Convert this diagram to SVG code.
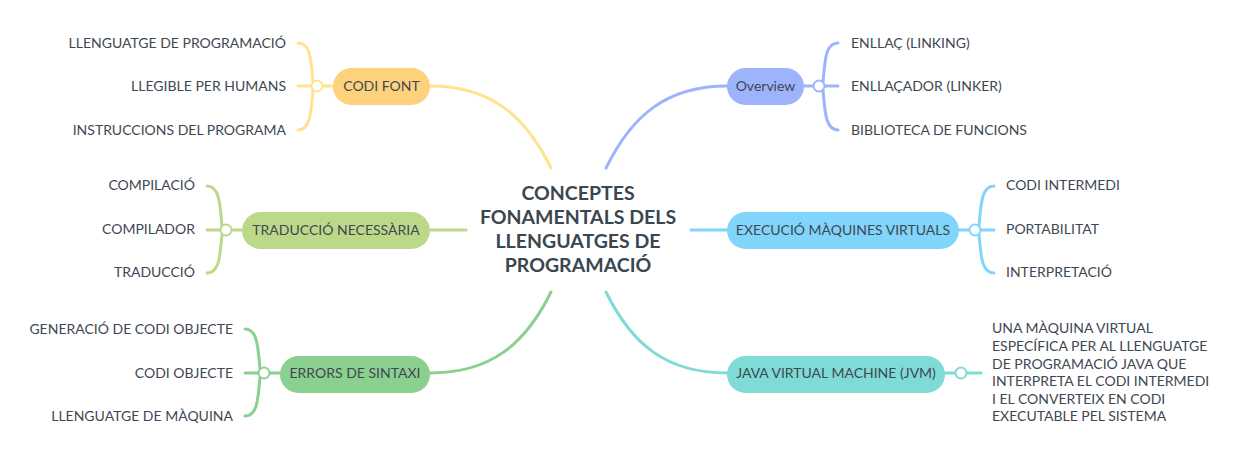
<svg xmlns="http://www.w3.org/2000/svg" width="1245" height="463" viewBox="0 0 1245 463">
<style>
.t{font-family:Lato,"Open Sans","Liberation Sans",sans-serif;font-size:14px;fill:#3e4852}
.r{text-anchor:end}
.c{text-anchor:middle}
.title{font-family:Lato,"Open Sans","Liberation Sans",sans-serif;font-size:19.5px;font-weight:bold;fill:#3a4650;text-anchor:middle}
.ln{fill:none;stroke-width:3;stroke-linecap:round}
.hub{fill:#fff;stroke-width:2}
.y{stroke:#fee390}.b{stroke:#9db3fb}.g{stroke:#bcd98a}.g2{stroke:#8bd08f}.lb{stroke:#81d4fa}.tl{stroke:#7fdbd6}
</style>
<rect width="1245" height="463" fill="#fff"/>
<g id="connectors">
<path class="ln y" d="M551,168 C525,115 490,86 430,86"/>
<path class="ln b" d="M606,168 C632,115 667,86 727,86"/>
<path class="ln g" d="M466,230 L430,230"/>
<path class="ln lb" d="M691,230 L727,230"/>
<path class="ln g2" d="M551,292 C525,345 490,373 430,373"/>
<path class="ln tl" d="M606,292 C632,345 667,373 727,373"/>
<path class="ln y" d="M333,86 L323,86"/>
<path class="ln y" d="M313,82 C311,58 310,43 298,43"/>
<path class="ln y" d="M311,86 L298,86"/>
<path class="ln y" d="M313,90 C311,114 310,130 298,130"/>
<path class="ln g" d="M242,230 L232,230"/>
<path class="ln g" d="M222,226 C220,202 219,186 207,186"/>
<path class="ln g" d="M220,230 L207,230"/>
<path class="ln g" d="M222,234 C220,258 219,273 207,273"/>
<path class="ln g2" d="M280,373 L270,373"/>
<path class="ln g2" d="M260,369 C258,345 257,329 245,329"/>
<path class="ln g2" d="M258,373 L245,373"/>
<path class="ln g2" d="M260,377 C258,401 257,416 245,416"/>
<path class="ln b" d="M804,86 L814,86"/>
<path class="ln b" d="M823,82 C825,58 826,43 838,43"/>
<path class="ln b" d="M825,86 L838,86"/>
<path class="ln b" d="M823,90 C825,114 826,130 838,130"/>
<path class="ln lb" d="M959,230 L969,230"/>
<path class="ln lb" d="M979,226 C981,202 982,186 994,186"/>
<path class="ln lb" d="M981,230 L994,230"/>
<path class="ln lb" d="M979,234 C981,258 982,273 994,273"/>
<path class="ln tl" d="M945,373 L955,373"/>
<path class="ln tl" d="M967,373 L981,373"/>
</g>
<g id="center">
<text class="title" x="578" y="200">CONCEPTES</text>
<text class="title" x="578" y="224">FONAMENTALS DELS</text>
<text class="title" x="578" y="248">LLENGUATGES DE</text>
<text class="title" x="578" y="272">PROGRAMACIÓ</text>
</g>
<g id="codi-font">
<rect x="333" y="68" width="97" height="37" rx="18.5" fill="#fed17d"/>
<text class="t c" x="381.5" y="91">CODI FONT</text>
<circle class="hub y" cx="317" cy="86" r="5.5"/>
</g>
<g id="cf-1"><text class="t r" x="286" y="48">LLENGUATGE DE PROGRAMACIÓ</text></g>
<g id="cf-2"><text class="t r" x="286" y="91">LLEGIBLE PER HUMANS</text></g>
<g id="cf-3"><text class="t r" x="286" y="135">INSTRUCCIONS DEL PROGRAMA</text></g>
<g id="traduccio">
<rect x="242" y="212" width="188" height="37" rx="18.5" fill="#bcd98a"/>
<text class="t c" x="336" y="235">TRADUCCIÓ NECESSÀRIA</text>
<circle class="hub g" cx="226" cy="230" r="5.5"/>
</g>
<g id="tr-1"><text class="t r" x="195" y="190">COMPILACIÓ</text></g>
<g id="tr-2"><text class="t r" x="195" y="234">COMPILADOR</text></g>
<g id="tr-3"><text class="t r" x="195" y="277">TRADUCCIÓ</text></g>
<g id="errors">
<rect x="280" y="356" width="150" height="37" rx="18.5" fill="#8bd08f"/>
<text class="t c" x="355" y="378">ERRORS DE SINTAXI</text>
<circle class="hub g2" cx="264" cy="373" r="5.5"/>
</g>
<g id="er-1"><text class="t r" x="233" y="334">GENERACIÓ DE CODI OBJECTE</text></g>
<g id="er-2"><text class="t r" x="233" y="378">CODI OBJECTE</text></g>
<g id="er-3"><text class="t r" x="233" y="421">LLENGUATGE DE MÀQUINA</text></g>
<g id="overview">
<rect x="727" y="68" width="77" height="37" rx="18.5" fill="#9db3fb"/>
<text class="t c" x="765.5" y="91">Overview</text>
<circle class="hub b" cx="819" cy="86" r="5.5"/>
</g>
<g id="ov-1"><text class="t" x="851" y="48">ENLLAÇ (LINKING)</text></g>
<g id="ov-2"><text class="t" x="851" y="91">ENLLAÇADOR (LINKER)</text></g>
<g id="ov-3"><text class="t" x="851" y="135">BIBLIOTECA DE FUNCIONS</text></g>
<g id="execucio">
<rect x="727" y="212" width="232" height="37" rx="18.5" fill="#81d4fa"/>
<text class="t c" x="843" y="235">EXECUCIÓ MÀQUINES VIRTUALS</text>
<circle class="hub lb" cx="975" cy="230" r="5.5"/>
</g>
<g id="ex-1"><text class="t" x="1006" y="190">CODI INTERMEDI</text></g>
<g id="ex-2"><text class="t" x="1006" y="234">PORTABILITAT</text></g>
<g id="ex-3"><text class="t" x="1006" y="277">INTERPRETACIÓ</text></g>
<g id="jvm">
<rect x="727" y="356" width="218" height="37" rx="18.5" fill="#7fdbd6"/>
<text class="t c" x="836" y="378">JAVA VIRTUAL MACHINE (JVM)</text>
<circle class="hub tl" cx="961" cy="373" r="5.5"/>
</g>
<g id="jvm-1">
<text class="t" x="992" y="333">UNA MÀQUINA VIRTUAL</text>
<text class="t" x="992" y="351">ESPECÍFICA PER AL LLENGUATGE</text>
<text class="t" x="992" y="369">DE PROGRAMACIÓ JAVA QUE</text>
<text class="t" x="992" y="386">INTERPRETA EL CODI INTERMEDI</text>
<text class="t" x="992" y="404">I EL CONVERTEIX EN CODI</text>
<text class="t" x="992" y="421">EXECUTABLE PEL SISTEMA</text>
</g>
</svg>
